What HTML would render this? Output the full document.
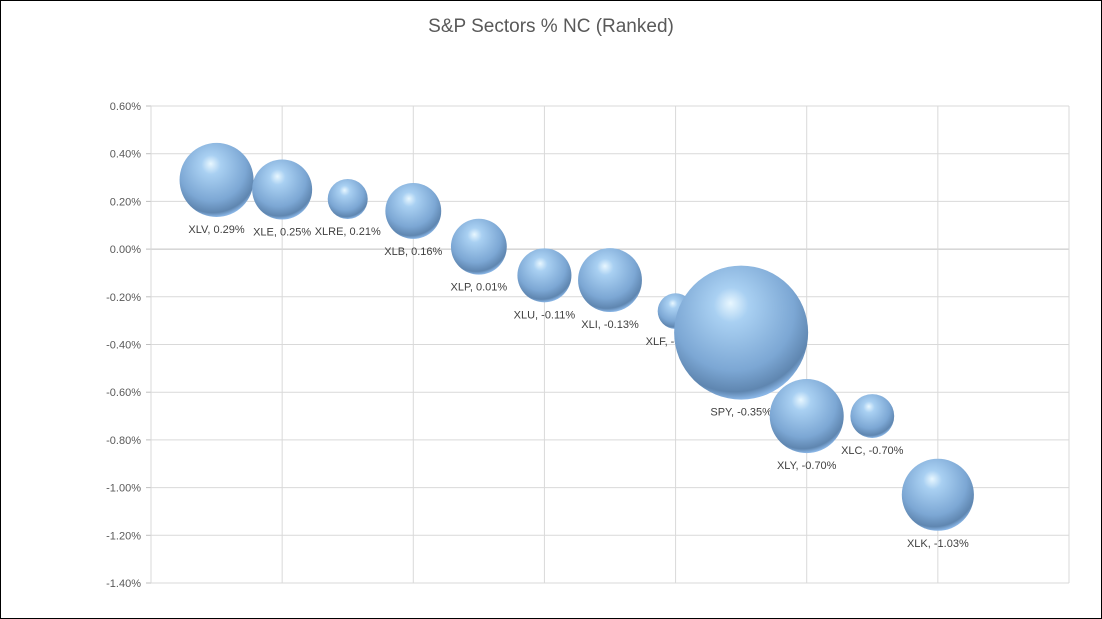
<!DOCTYPE html>
<html><head><meta charset="utf-8"><style>
body{margin:0;background:#fff;font-family:"Liberation Sans",sans-serif}
#wrap{width:1100px;height:617px;border:1px solid #000;position:relative;overflow:hidden}
</style></head><body>
<div id="wrap">
<svg id="chart" width="1100" height="617">
<defs>
<radialGradient id="ball" cx="0.45" cy="0.35" r="0.65" fx="0.42" fy="0.28">
<stop offset="0" stop-color="#e8f7ff"/>
<stop offset="0.2" stop-color="#a9d0f2"/>
<stop offset="0.7" stop-color="#7ca7d4"/>
<stop offset="0.92" stop-color="#5f86b0"/>
<stop offset="1" stop-color="#8ab6e6"/>
</radialGradient>
</defs>
<text x="550" y="31" text-anchor="middle" font-size="19" fill="#595959">S&amp;P Sectors % NC (Ranked)</text>
<g id="grid"></g><g id="bubbles"></g>
</svg></div>
<script>
const labels=["XLV","XLE","XLRE","XLB","XLP","XLU","XLI","XLF","SPY","XLY","XLC","XLK"];
const xValues=[0.5,1,1.5,2,2.5,3,3.5,4,4.5,5,5.5,6];
const yValues=[0.29,0.25,0.21,0.16,0.01,-0.11,-0.13,-0.26,-0.35,-0.70,-0.70,-1.03];
const sizes=[13.7,9,4,7.8,7.8,7.3,10.2,3.2,44.9,13.7,4.8,13];
const yTicks=[0.6,0.4,0.2,0,-0.2,-0.4,-0.6,-0.8,-1.0,-1.2,-1.4];
const xTicks=[0,1,2,3,4,5,6,7];
const NS="http://www.w3.org/2000/svg";
const X0=150,X1=1068,Y0=105,Y1=582;
const xs=v=>X0+(v-0)/(7-0)*(X1-X0);
const ys=v=>Y0+(0.6-v)/(2.0)*(Y1-Y0);
const rs=s=>10*Math.sqrt(s);
function mk(t,a,p){const e=document.createElementNS(NS,t);for(const k in a)e.setAttribute(k,a[k]);p.appendChild(e);return e;}
const g=document.getElementById('grid'),b=document.getElementById('bubbles');
yTicks.forEach(v=>{
 const l=mk('line',{x1:X0,x2:X1,y1:ys(v),y2:ys(v),stroke:v===0?'#bfbfbf':'#d9d9d9','stroke-width':1},g);
 
 
 const tk=mk('line',{x1:X0-5,x2:X0,y1:ys(v),y2:ys(v),stroke:'#bfbfbf'},g);
 
 
 const t=mk('text',{x:X0-10,y:ys(v)+4,'text-anchor':'end','font-size':11,fill:'#595959'},g);
 t.textContent=v.toFixed(2)+'%';
 
 
});
xTicks.forEach(v=>{
 const l=mk('line',{x1:xs(v),x2:xs(v),y1:Y0,y2:Y1,stroke:'#d9d9d9'},g);
 
 
});
labels.forEach((n,i)=>{
 const cx=xs(xValues[i]),cy=ys(yValues[i]),r=rs(sizes[i]);
 const c=mk('circle',{cx:cx,cy:cy,r:r,fill:'url(#ball)'},b);
 
 
 const t=mk('text',{x:cx,y:cy+r+16,'text-anchor':'middle','font-size':11,fill:'#404040'},b);
 t.textContent=n+', '+yValues[i].toFixed(2)+'%';
 
 
});
</script>
</body></html>
